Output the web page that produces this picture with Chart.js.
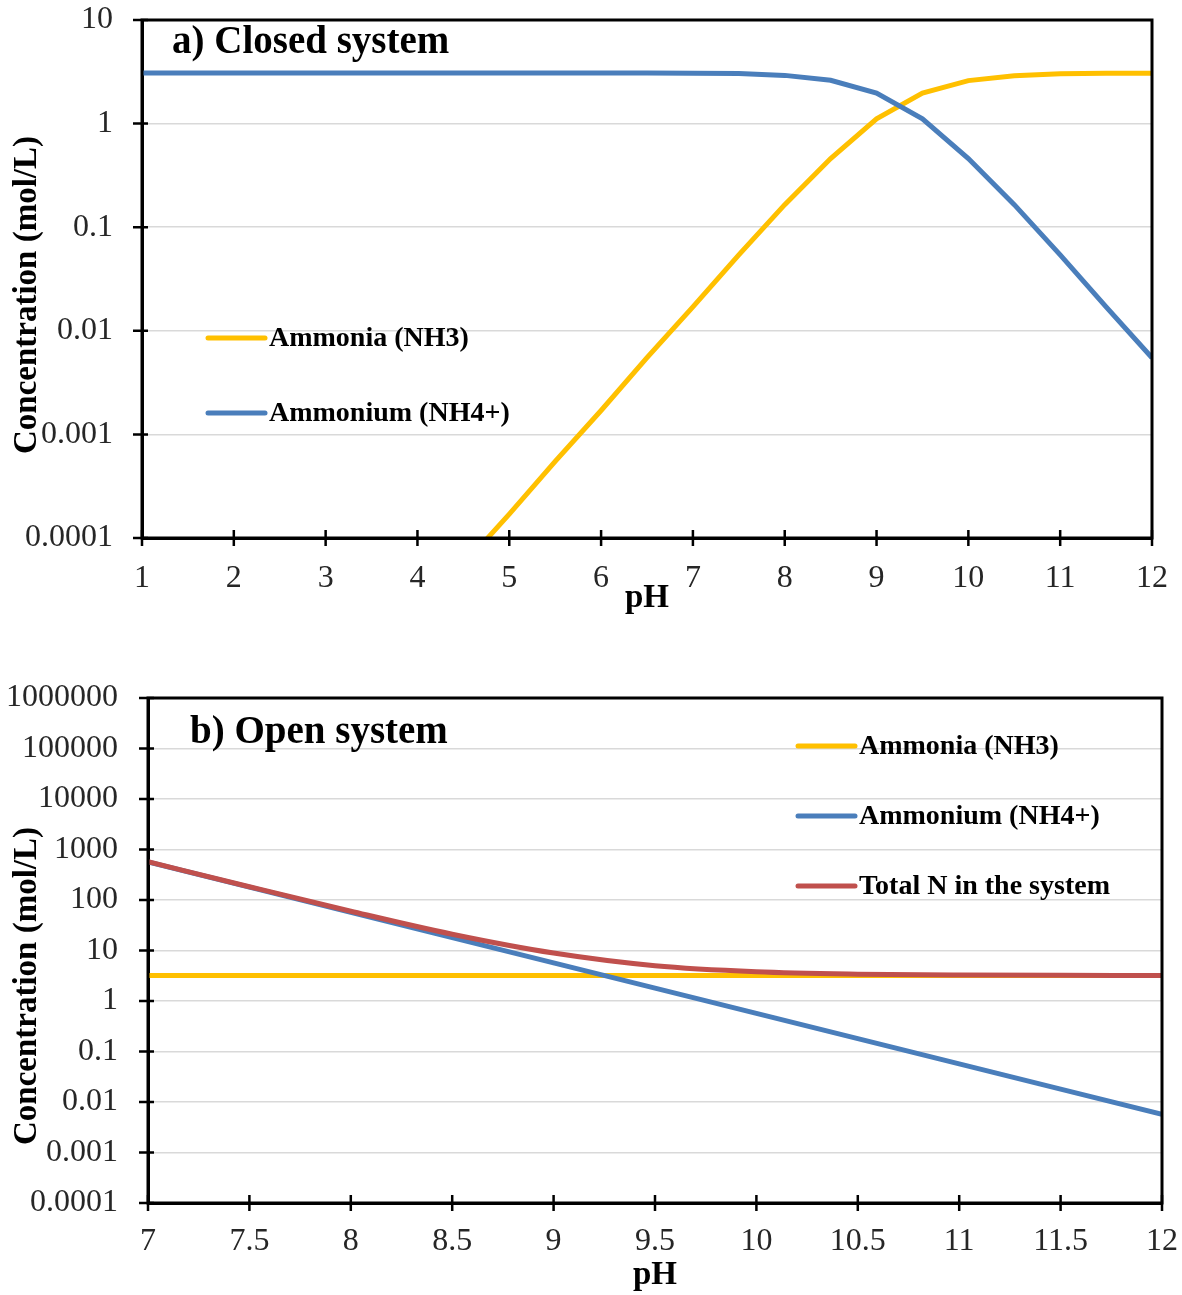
<!DOCTYPE html>
<html>
<head>
<meta charset="utf-8">
<title>Ammonia / ammonium speciation</title>
<script src="https://cdn.jsdelivr.net/npm/chart.js@4.4.1/dist/chart.umd.min.js"></script>
<style>
  html, body { margin: 0; padding: 0; background: #fff; }
  canvas { position: absolute; left: 0; }
  #closedChart { top: 0; }
  #openChart { top: 660px; }
</style>
</head>
<body>
<canvas id="closedChart" width="1182" height="640"></canvas>
<canvas id="openChart" width="1182" height="635"></canvas>
<script>
// a) Closed system
const phClosed = [1, 1.5, 2, 2.5, 3, 3.5, 4, 4.5, 5, 5.5, 6, 6.5, 7, 7.5, 8, 8.5, 9, 9.5, 10, 10.5, 11, 11.5, 12];
const nh3Closed = [1.7e-8, 5.5e-8, 1.7e-7, 5.5e-7, 1.7e-6, 5.5e-6, 1.7e-5, 5.5e-5, 1.7e-4, 5.5e-4,
                   0.0017, 0.0055, 0.017, 0.054, 0.165, 0.46, 1.11, 1.97, 2.6, 2.9, 3.02, 3.06, 3.07];
const nh4Closed = [3.08, 3.08, 3.08, 3.08, 3.08, 3.08, 3.08, 3.08, 3.08, 3.08, 3.08, 3.08, 3.07, 3.05,
                   2.92, 2.62, 1.97, 1.11, 0.46, 0.165, 0.054, 0.017, 0.0055];

// b) Open system
const phOpen = [7, 7.5, 8, 8.5, 9, 9.5, 10, 10.5, 11, 11.5, 12];
const nh3Open = [3.2, 3.2, 3.2, 3.2, 3.2, 3.2, 3.2, 3.2, 3.2, 3.2, 3.2];
const nh4Open = [570, 180, 57, 18, 5.7, 1.8, 0.57, 0.18, 0.057, 0.018, 0.0057];
const totalOpen = [573, 183, 60, 21, 8.9, 5.0, 3.8, 3.4, 3.26, 3.22, 3.2];

// axis ticks
const closedTicksX = [1, 2, 3, 4, 5, 6, 7, 8, 9, 10, 11, 12];
const closedTicksY = [0.0001, 0.001, 0.01, 0.1, 1, 10];
const openTicksX = [7, 7.5, 8, 8.5, 9, 9.5, 10, 10.5, 11, 11.5, 12];
const openTicksY = [0.0001, 0.001, 0.01, 0.1, 1, 10, 100, 1000, 10000, 100000, 1000000];

const SERIF = '"Liberation Serif", "Times New Roman", serif';
const YELLOW = '#FFC000';
const BLUE = '#4A7EBB';
const RED = '#C0504D';

function points(xs, ys) {
    return xs.map((x, i) => ({ x: x, y: ys[i] }));
}

// frame, crossing tick marks, panel title, in-plot legend and rotated y title
const panelDecor = {
    id: 'panelDecor',
    afterDraw(chart, args, opts) {
        const ctx = chart.ctx;
        const a = chart.chartArea;
        const x = chart.scales.x;
        const y = chart.scales.y;
        ctx.save();

        ctx.strokeStyle = '#000';
        ctx.lineWidth = 3;
        ctx.strokeRect(a.left, a.top, a.right - a.left, a.bottom - a.top);

        ctx.lineWidth = 2.5;
        ctx.beginPath();
        x.ticks.forEach(t => {
            const px = x.getPixelForValue(t.value);
            ctx.moveTo(px, a.bottom - 8);
            ctx.lineTo(px, a.bottom + 8);
        });
        y.ticks.forEach(t => {
            const py = y.getPixelForValue(t.value);
            ctx.moveTo(a.left - 9, py);
            ctx.lineTo(a.left + 6, py);
        });
        ctx.stroke();

        ctx.fillStyle = '#000';
        ctx.textAlign = 'left';
        ctx.textBaseline = 'middle';
        ctx.font = 'bold 39px ' + SERIF;
        ctx.fillText(opts.title, a.left + opts.titleDx, a.top + opts.titleDy);

        ctx.font = 'bold 28px ' + SERIF;
        ctx.lineCap = 'round';
        chart.data.datasets.forEach((ds, i) => {
            const lx = a.left + opts.legendLeft;
            const ly = a.top + opts.legendTop + i * opts.legendGap;
            ctx.strokeStyle = ds.borderColor;
            ctx.lineWidth = 5;
            ctx.beginPath();
            ctx.moveTo(lx, ly);
            ctx.lineTo(lx + 57, ly);
            ctx.stroke();
            ctx.fillText(ds.label, lx + 61, ly + 1);
        });

        ctx.translate(opts.yTitleX, opts.yTitleY);
        ctx.rotate(-Math.PI / 2);
        ctx.textAlign = 'center';
        ctx.font = 'bold 33px ' + SERIF;
        ctx.fillText('Concentration (mol/L)', 0, 0);
        ctx.restore();
    }
};

function makeChart(canvasId, s) {
    const canvas = document.getElementById(canvasId);
    return new Chart(canvas.getContext('2d'), {
        type: 'line',
        data: { datasets: s.datasets },
        options: {
            responsive: false,
            animation: false,
            layout: { padding: s.padding },
            elements: { point: { radius: 0 } },
            plugins: {
                legend: { display: false },
                tooltip: { enabled: false },
                panelDecor: s.decor
            },
            scales: {
                x: {
                    type: 'linear',
                    min: s.ticksX[0],
                    max: s.ticksX[s.ticksX.length - 1],
                    afterBuildTicks: scale => { scale.ticks = s.ticksX.map(v => ({ value: v })); },
                    afterFit: scale => {
                        scale.height = canvas.height - s.plotBottom;
                        // the plot edges are fixed by the layout padding alone
                        scale.paddingLeft = 0;
                        scale.paddingRight = 0;
                    },
                    grid: { display: false, drawTicks: false },
                    border: { display: true, color: '#000', width: 3 },
                    ticks: {
                        padding: s.xTickPad,
                        color: '#262626',
                        font: { family: SERIF, size: 32 },
                        callback: v => String(v)
                    },
                    title: {
                        display: true,
                        text: 'pH',
                        color: '#000',
                        font: { family: SERIF, size: 33, weight: 'bold' },
                        padding: { top: 0, bottom: s.xTitlePad }
                    }
                },
                y: {
                    type: 'logarithmic',
                    min: s.ticksY[0],
                    max: s.ticksY[s.ticksY.length - 1],
                    afterBuildTicks: scale => { scale.ticks = s.ticksY.map(v => ({ value: v })); },
                    afterFit: scale => {
                        scale.width = s.plotLeft;
                        scale.paddingTop = 0;
                        scale.paddingBottom = 0;
                    },
                    grid: { color: '#d9d9d9', lineWidth: 1.5, drawTicks: false },
                    border: { display: true, color: '#000', width: 3 },
                    ticks: {
                        padding: s.yTickPad,
                        color: '#262626',
                        font: { family: SERIF, size: 32 },
                        callback: v => String(v)
                    }
                }
            }
        },
        plugins: [panelDecor]
    });
}

makeChart('closedChart', {
    datasets: [
        { label: 'Ammonia (NH3)', data: points(phClosed, nh3Closed), borderColor: YELLOW, borderWidth: 5, order: 2 },
        { label: 'Ammonium (NH4+)', data: points(phClosed, nh4Closed), borderColor: BLUE, borderWidth: 5, order: 1 }
    ],
    ticksX: closedTicksX,
    ticksY: closedTicksY,
    padding: { top: 20, right: 30, bottom: 0, left: 0 },
    plotLeft: 142,
    plotBottom: 538,
    xTickPad: 21,
    yTickPad: 29,
    xTitlePad: 22,
    decor: {
        title: 'a) Closed system', titleDx: 30, titleDy: 23,
        legendLeft: 66, legendTop: 318, legendGap: 75,
        yTitleX: 27, yTitleY: 295
    }
});

makeChart('openChart', {
    datasets: [
        { label: 'Ammonia (NH3)', data: points(phOpen, nh3Open), borderColor: YELLOW, borderWidth: 5, order: 2 },
        { label: 'Ammonium (NH4+)', data: points(phOpen, nh4Open), borderColor: BLUE, borderWidth: 5, order: 1 },
        { label: 'Total N in the system', data: points(phOpen, totalOpen), borderColor: RED, borderWidth: 5,
          cubicInterpolationMode: 'monotone', order: 0 }
    ],
    ticksX: openTicksX,
    ticksY: openTicksY,
    padding: { top: 38, right: 20, bottom: 0, left: 0 },
    plotLeft: 148,
    plotBottom: 543,
    xTickPad: 19,
    yTickPad: 30,
    xTitlePad: 0,
    decor: {
        title: 'b) Open system', titleDx: 42, titleDy: 35,
        legendLeft: 650, legendTop: 48, legendGap: 70,
        yTitleX: 27, yTitleY: 326
    }
});
</script>
</body>
</html>
